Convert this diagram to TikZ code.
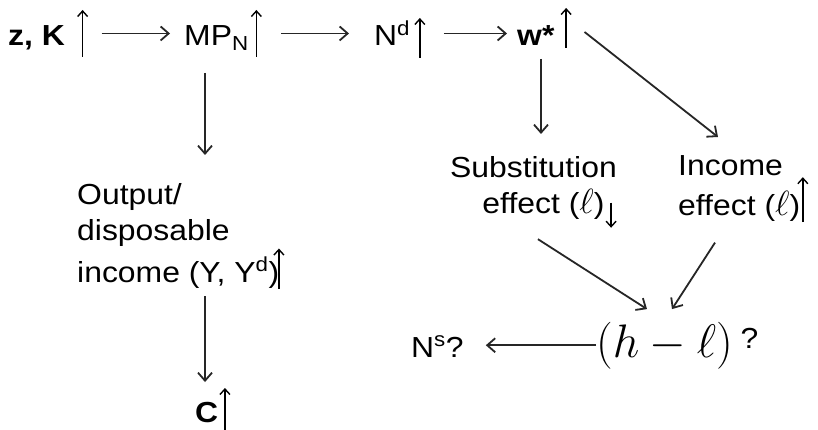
\RequirePackage{fix-cm}
\documentclass[tikz,border=0pt]{standalone}
\usepackage{fontspec}
\setmainfont{Liberation Sans}[FakeStretch=1.1]
\usetikzlibrary{arrows.meta}

% thin arrows set inside the text: depth below and height above the baseline, in pt
\newcommand{\uarr}[2]{\tikz[baseline=0pt]\draw[line width=1.4pt,-{Straight Barb[length=5.5pt,width=10pt]}] (0pt,-#1pt) -- (0pt,#2pt);}
\newcommand{\darr}[2]{\tikz[baseline=0pt]\draw[line width=1.4pt,-{Straight Barb[length=5.5pt,width=10pt]}] (0pt,#2pt) -- (0pt,-#1pt);}
% script ell, a little larger than the surrounding text
\newcommand{\ellsym}{{\fontsize{35}{36}\selectfont$\ell$}}

\begin{document}
\begin{tikzpicture}[x=1pt,y=-1pt,
  every node/.style={font=\fontsize{29}{36.5}\selectfont, inner sep=0pt, text=black},
  arr/.style={line width=1.8pt, draw=black!85, -{Straight Barb[length=8pt,width=14pt]}}]
\fill[white] (0,0) rectangle (818,430);
\useasboundingbox (0,0) rectangle (818,430);

% top row
\node[anchor=base west] (zk) at (8,46) {\textbf{z, K}\hspace{12pt}\uarr{11}{36}};
\node[anchor=base west] (mp) at (184,46) {MP\textsubscript{N}\hspace{2pt}\uarr{11}{36}};
\node[anchor=base west] (nd) at (374,46) {N\textsuperscript{d}\hspace{4pt}\uarr{12}{28}};
\node[anchor=base west] (ws) at (517,46) {\textbf{w*}\hspace{6pt}\uarr{2}{38}};

% left column
\node[anchor=north west, align=left] (out) at (77,183)
  {Output/\\disposable\\income (Y, Y\textsuperscript{d})\hspace{-6pt}\uarr{6}{34}};
\node[anchor=base west] (c) at (195,422) {\textbf{C}\hspace{1pt}\uarr{12}{34}};

% effects of the wage rise
\node[anchor=north east, align=right] (sub) at (617,156)
  {Substitution\\effect (\ellsym)\hspace{1pt}\darr{14}{11}};
\node[anchor=north west, align=left] (inc) at (678,155)
  {Income\\effect (\ellsym)\hspace{-3pt}\uarr{7}{38}};

% hours worked and labour supply
\node[anchor=base west] (hl) at (596,357)
  {{\fontsize{47}{47}\selectfont$(h-\ell)$}\hspace{8pt}\raisebox{9pt}{?}};
\node[anchor=base west] (ns) at (411,357) {N\textsuperscript{s}?};

% connectors
\draw[arr, shorten <=13pt, shorten >=14pt] (zk.east) -- (zk.east -| mp.west);
\draw[arr, shorten <=19pt, shorten >=25pt] (mp.east) -- (mp.east -| nd.west);
\draw[arr, shorten <=18pt, shorten >=10pt] (nd.east |- mp.east) -- (ws.west |- mp.east);
\draw[arr] ([xshift=12.5pt,yshift=-4pt]ws.east) -- ([xshift=40pt,yshift=18pt]inc.north west);
\draw[arr, shorten >=22pt] ([xshift=24pt,yshift=-10pt]ws.south west) -- ([xshift=24pt]ws.south west |- sub.north);
\draw[arr, shorten >=28pt] ([xshift=21pt,yshift=-15pt]mp.south west) -- ([xshift=21pt]mp.south west |- out.north);
\draw[arr, shorten >=5pt] ([xshift=128pt,yshift=-7pt]out.south west) -- ([xshift=128pt]out.south west |- c.north);
\draw[arr] ([xshift=4.5pt,yshift=-10.5pt]sub.south) -- ([xshift=51pt,yshift=12.5pt]hl.north west);
\draw[arr] ([xshift=37pt,yshift=-19.5pt]inc.south west) -- ([xshift=76pt,yshift=12.5pt]hl.north west);
\draw[arr, shorten >=22pt] (hl.west) -- (hl.west -| ns.east);
\end{tikzpicture}
\end{document}
